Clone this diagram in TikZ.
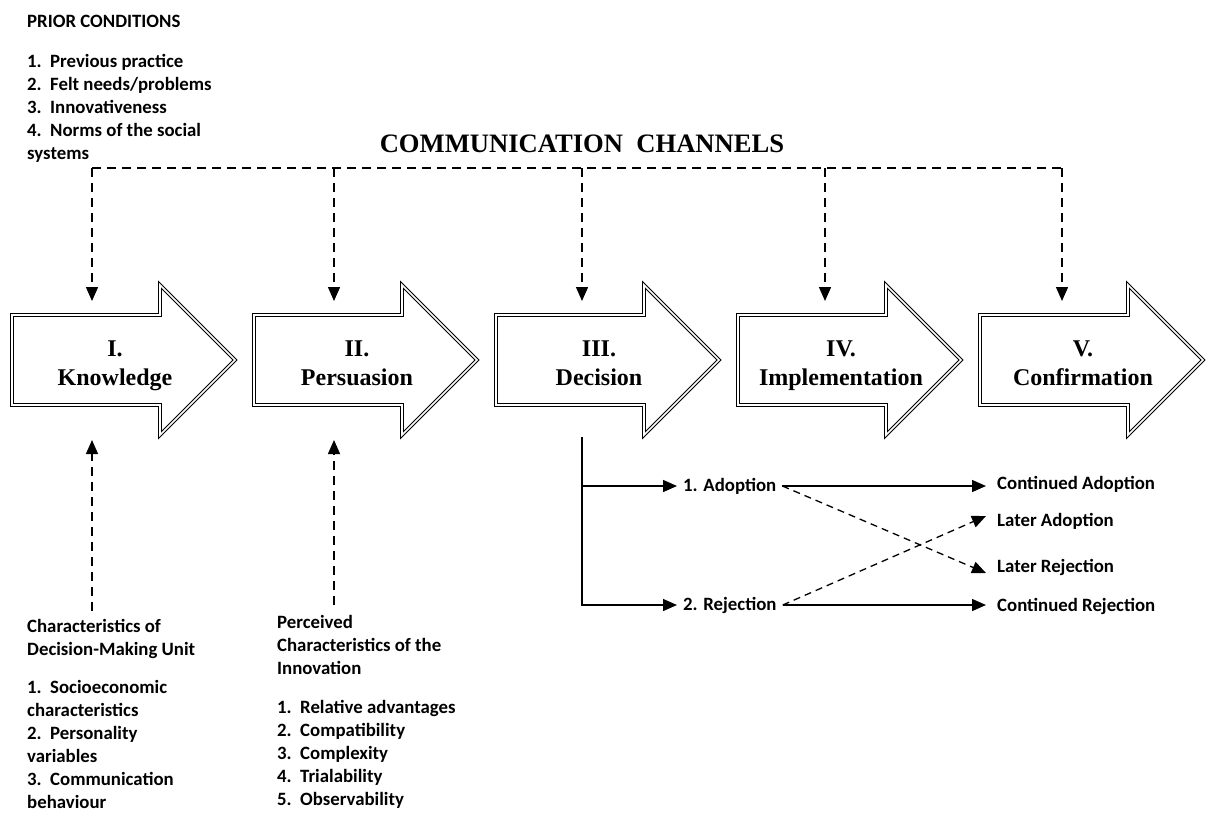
\documentclass[tikz,border=0pt]{standalone}
\usepackage{fontspec}
\setmainfont{Carlito}
\newfontfamily\tnr{Liberation Serif}
\usetikzlibrary{arrows.meta}
\begin{document}
\begin{tikzpicture}[x=1pt,y=-1pt,
  lbl/.style={font=\fontsize{18.8}{23}\selectfont\bfseries, align=left, inner sep=0pt, anchor=north west},
  stage/.style={font=\tnr\fontsize{24}{29}\selectfont\bfseries, align=center, inner sep=0pt, anchor=north},
  blockarrow/.style={draw=black, double=white, double distance=1.6pt, line width=1.1pt, line join=miter},
  dline/.style={line width=1.4pt, dash pattern=on 9pt off 6pt},
  tip/.style={-{Triangle[length=14pt,width=12pt]}},
  sline/.style={line width=1.4pt},
  outc/.style={font=\fontsize{18.8}{23}\selectfont\bfseries, inner xsep=11pt, inner ysep=2pt, anchor=west},
  opt/.style={font=\fontsize{18.8}{23}\selectfont\bfseries, inner xsep=6pt, inner ysep=2pt, anchor=west}
]
\useasboundingbox (0,0) rectangle (1210,812);

% prior conditions
\node[lbl] (priorhead) at (27,11) {\strut PRIOR CONDITIONS};
\node[lbl] (prior) at (27,51) {\strut 1.\hspace{0.45em}Previous practice\\2.\hspace{0.45em}Felt needs/problems\\3.\hspace{0.45em}Innovativeness\\4.\hspace{0.45em}Norms of the social\\systems};

% communication channels
\node[font=\tnr\fontsize{26.6}{30}\selectfont\bfseries, anchor=base, inner sep=0pt] (channels) at (582,152) {COMMUNICATION\hspace{0.5em}CHANNELS};

% block arrows
\foreach \X in {12,254,496,738,980}{
  \draw[blockarrow] (\X,315) -- ++(148,0) -- ++(0,-30) -- ++(75,75) -- ++(-75,75) -- ++(0,-30) -- ++(-148,0) -- cycle;
}
\node[stage] (s1) at (115,336) {\strut I.\\Knowledge};
\node[stage] (s2) at (357,336) {\strut II.\\Persuasion};
\node[stage] (s3) at (599,336) {\strut III.\\Decision};
\node[stage] (s4) at (841,336) {\strut IV.\\Implementation};
\node[stage] (s5) at (1083,336) {\strut V.\\Confirmation};

% channels dashed connectors
\coordinate (c1) at (92,168);
\coordinate (c2) at (334,168);
\coordinate (c3) at (582,168);
\coordinate (c4) at (825,168);
\coordinate (c5) at (1062,168);
\coordinate (t1) at (92,301);
\coordinate (t2) at (334,301);
\coordinate (t3) at (582,301);
\coordinate (t4) at (825,301);
\coordinate (t5) at (1062,301);
\draw[dline] (c1) -- (c5);
\foreach \i in {1,...,5}{
  \draw[dline,tip] (c\i) -- (t\i);
}

% bottom texts
\node[lbl] (dmu) at (27,616) {\strut Characteristics of\\Decision-Making Unit};
\node[lbl] (dmulist) at (27,677) {\strut 1.\hspace{0.45em}Socioeconomic\\characteristics\\2.\hspace{0.45em}Personality\\variables\\3.\hspace{0.45em}Communication\\behaviour};
\node[lbl] (pci) at (277,612) {\strut Perceived\\Characteristics of the\\Innovation};
\node[lbl] (pcilist) at (277,697) {\strut 1.\hspace{0.45em}Relative advantages\\2.\hspace{0.45em}Compatibility\\3.\hspace{0.45em}Complexity\\4.\hspace{0.45em}Trialability\\5.\hspace{0.45em}Observability};

\coordinate (b1) at (92,611);
\coordinate (b2) at (334,605);
\coordinate (u1) at (92,440);
\coordinate (u2) at (334,440);
\draw[dline,tip] (b1) -- (u1);
\draw[dline,tip] (b2) -- (u2);

% decision outcomes
\node[opt] (adopt) at (677,486) {1. Adoption};
\node[opt] (reject) at (677,605) {2. Rejection};
\node[outc] (cadopt) at (986,484) {Continued Adoption};
\node[outc] (ladopt) at (986,521) {Later Adoption};
\node[outc] (lreject) at (986,567) {Later Rejection};
\node[outc] (creject) at (986,606) {Continued Rejection};

\coordinate (dtail) at (582,437);
\draw[sline,tip] (dtail) |- (reject.west);
\draw[sline,tip] (dtail |- adopt.west) -- (adopt.west);
\draw[sline,tip] (adopt.east) -- (adopt.east -| cadopt.west);
\draw[sline,tip] (reject.east) -- (reject.east -| creject.west);
\draw[line width=1.3pt, dash pattern=on 7pt off 5pt, tip] (adopt.east) -- ([yshift=-6pt]lreject.west);
\draw[line width=1.3pt, dash pattern=on 7pt off 5pt, tip] (reject.east) -- ([yshift=5pt]ladopt.west);
\end{tikzpicture}
\end{document}
